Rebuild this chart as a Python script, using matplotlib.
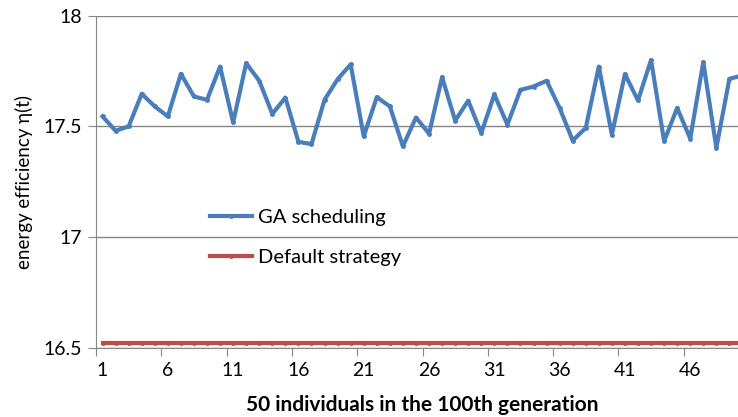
import numpy as np
import matplotlib.pyplot as plt

plt.rcParams['font.family'] = ['Lato', 'DejaVu Sans']

individuals = np.arange(1, 51)
ga = [17.545, 17.48, 17.50, 17.647, 17.59, 17.545, 17.737, 17.635, 17.62, 17.77,
      17.518, 17.785, 17.706, 17.556, 17.63, 17.43, 17.42, 17.62, 17.713, 17.78,
      17.455, 17.632, 17.59, 17.41, 17.54, 17.467, 17.722, 17.526, 17.616, 17.47,
      17.644, 17.508, 17.665, 17.68, 17.706, 17.583, 17.436, 17.493, 17.77, 17.463,
      17.736, 17.617, 17.80, 17.433, 17.583, 17.445, 17.79, 17.403, 17.715, 17.73]
default = [16.523] * 50

fig = plt.figure(figsize=(7.38, 4.17), dpi=100)
ax = fig.add_axes([96/738, 1-347.7/417, 653/738, (347.7-15.7)/417])

ax.plot(individuals, ga, color='#4A7EBB', lw=3, marker='o', ms=2.5, label='GA scheduling')
ax.plot(individuals, default, color='#BE4B48', lw=3, marker='o', ms=2.5, label='Default strategy')

ax.set_xlim(0.5, 50.5)
ax.set_ylim(16.5, 18)
ax.set_yticks([16.5, 17, 17.5, 18])
ax.set_yticklabels(['16.5', '17', '17.5', '18'])
ax.set_xticks(np.arange(0.5, 51, 5))
ax.set_xticklabels([])
ax.set_xticks(np.arange(1, 51, 5), minor=True)
ax.set_xticklabels([str(i) for i in range(1, 51, 5)], minor=True)
ax.tick_params(axis='x', which='minor', length=0, pad=10, labelsize=14)
ax.tick_params(axis='x', which='major', length=6, color='#868686')
ax.tick_params(axis='y', length=6, color='#868686', labelsize=14, pad=4)

ax.grid(axis='y', color='#868686', lw=1)
ax.set_axisbelow(True)
for s in ['top', 'right']:
    ax.spines[s].set_visible(False)
for s in ['left', 'bottom']:
    ax.spines[s].set_color('#868686')

ax.set_ylabel('energy efficiency η(t)', fontsize=13.5, labelpad=8)
ax.set_xlabel('50 individuals in the 100th generation', fontsize=15, fontweight='bold', labelpad=12)

ax.legend(loc='upper left', bbox_to_anchor=(192/738, 1-191/417), bbox_transform=fig.transFigure,
          frameon=False, fontsize=14.5, handlelength=2.1, handletextpad=0.3, labelspacing=1.15)

fig.savefig('out.png', dpi=100)
